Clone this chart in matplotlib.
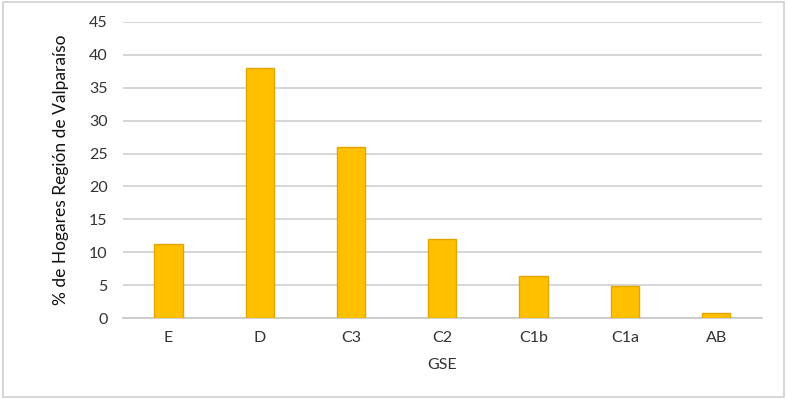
import matplotlib.pyplot as plt
from matplotlib.patches import Rectangle

categorias = ['E', 'D', 'C3', 'C2', 'C1b', 'C1a', 'AB']
porcentajes = [11.25, 38.0, 26.0, 12.0, 6.4, 4.9, 0.7]
ticks_y = [0, 5, 10, 15, 20, 25, 30, 35, 40, 45]

plt.rcParams['font.family'] = ['Lato', 'DejaVu Sans']

fig = plt.figure(figsize=(7.87, 3.99), dpi=100)
ax = fig.add_axes([0.156, 0.203, 0.812, 0.742])

x = range(len(categorias))
ax.bar(x, porcentajes, width=0.31, color='#FFC000', edgecolor='#E3A600',
       linewidth=1, zorder=3)

ax.set_xlim(-0.5, len(categorias) - 0.5)
ax.set_ylim(0, 45)
ax.set_yticks(ticks_y)
ax.set_xticks(list(x))
ax.set_xticklabels(categorias)
ax.yaxis.grid(True, color='#d0d0d0', linewidth=1.2, zorder=0)
ax.tick_params(axis='both', length=0, labelsize=11.5, colors='#333333')
ax.tick_params(axis='y', pad=11)
ax.tick_params(axis='x', pad=9)
for s in ['top', 'right', 'left']:
    ax.spines[s].set_visible(False)
ax.spines['bottom'].set_color('#c8c8c8')
ax.spines['bottom'].set_linewidth(1.2)

ax.set_xlabel('GSE', fontsize=11.5, color='#333333', labelpad=10)
ax.set_ylabel('% de Hogares Región de Valparaíso', fontsize=12.5,
              color='#111111', labelpad=14)

fig.patches.append(Rectangle((0.004, 0.004), 0.992, 0.99, transform=fig.transFigure,
                             fill=False, edgecolor='#d0d0d0', linewidth=1.2))

plt.savefig('out.png', dpi=100)
